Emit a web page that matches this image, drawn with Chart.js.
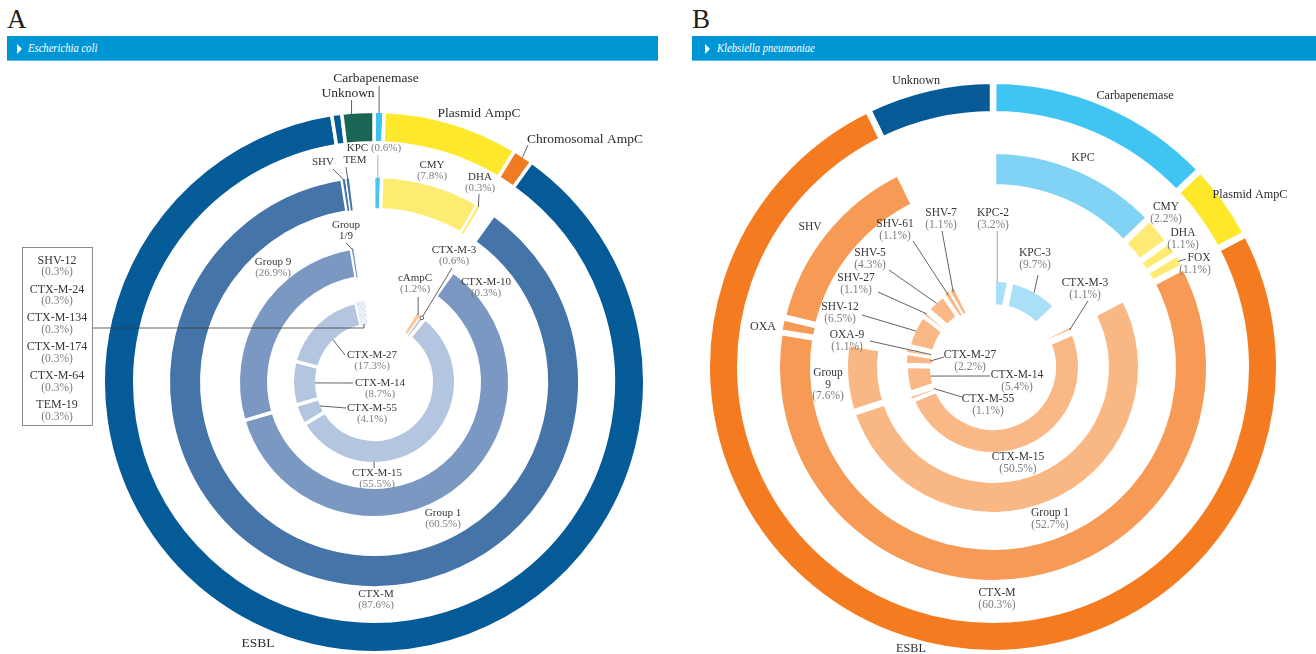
<!DOCTYPE html>
<html>
<head>
<meta charset="utf-8">
<title>Beta-lactamase genes: E. coli and K. pneumoniae</title>
<script src="https://cdn.jsdelivr.net/npm/chart.js@4.4.1/dist/chart.umd.min.js"></script>
<style>
  html, body { margin: 0; padding: 0; background: #fff; }
  body { position: relative; width: 1316px; height: 654px; overflow: hidden; font-family: 'Liberation Serif', 'DejaVu Serif', serif; }
  .letter { position: absolute; top: 4px; font-size: 27px; line-height: 30px; color: #231f20; }
  .bar { position: absolute; top: 36px; height: 24px; background: #0096d6; border-bottom: 1px solid #5bbfe9; }
  .bar .tri { position: absolute; top: 8px; width: 0; height: 0; border-left: 5px solid #fff; border-top: 5px solid transparent; border-bottom: 5px solid transparent; }
  .bar .name { position: absolute; top: 3px; color: #fff; font-style: italic; font-size: 12.5px; line-height: 18px; white-space: nowrap; transform: scaleX(0.85); transform-origin: left center; }
  canvas { position: absolute; top: 62px; }
</style>
</head>
<body>
  <div class="letter" style="left:7px">A</div>
  <div class="bar" style="left:7px; width:651px"><span class="tri" style="left:10px"></span><span class="name" style="left:21px">Escherichia coli</span></div>
  <div class="letter" style="left:692px">B</div>
  <div class="bar" style="left:692px; width:624px"><span class="tri" style="left:13px"></span><span class="name" style="left:25px">Klebsiella pneumoniae</span></div>

  <canvas id="chartA" width="680" height="592" style="left:0"></canvas>
  <canvas id="chartB" width="636" height="592" style="left:680px"></canvas>

<script>
// ---- E. coli (A), rings from outside in: class, family, CTX-M group, gene (% of isolates) ----
// empty label = no entry on that ring (left open)
const ecoliClassLabels = ['Carbapenemase', 'Plasmid AmpC', 'Chromosomal AmpC', 'ESBL', 'ESBL', 'Unknown'];
const ecoliClassValues = [0.6, 8.1, 1.2, 87.6, 0.6, 1.9];
const ecoliFamilyLabels = ['KPC', 'CMY', 'DHA', '', 'CTX-M', 'SHV', 'TEM', ''];
const ecoliFamilyValues = [0.6, 7.8, 0.3, 1.2, 87.6, 0.3, 0.3, 1.9];
const ecoliGroupLabels = ['', 'Group 1', 'Group 9', 'Group 1/9', ''];
const ecoliGroupValues = [9.9, 60.5, 26.9, 0.3, 2.4];
const ecoliGeneLabels = ['', 'cAmpC', 'CTX-M-3', 'CTX-M-10', 'CTX-M-15', 'CTX-M-55', 'CTX-M-14', 'CTX-M-27',
  'CTX-M-24', 'CTX-M-134', 'CTX-M-174', 'CTX-M-64', 'SHV-12', 'TEM-19', ''];
const ecoliGeneValues = [8.7, 1.2, 0.6, 0.3, 55.5, 4.1, 8.7, 17.3, 0.3, 0.3, 0.3, 0.3, 0.3, 0.3, 1.8];

// ---- K. pneumoniae (B) ----
const klebClassLabels = ['Carbapenemase', 'Plasmid AmpC', 'ESBL', 'Unknown'];
const klebClassValues = [12.9, 4.4, 75.5, 7.2];
const klebFamilyLabels = ['KPC', 'CMY', 'DHA', 'FOX', 'CTX-M', 'OXA', 'SHV', ''];
const klebFamilyValues = [12.9, 2.2, 1.1, 1.1, 60.3, 1.1, 14.1, 7.2];
const klebGroupLabels = ['', 'Group 1', 'Group 9', ''];
const klebGroupValues = [17.3, 52.7, 7.6, 22.4];
const klebGeneLabels = ['KPC-2', 'KPC-3', '', 'CTX-M-3', 'CTX-M-15', 'CTX-M-55', 'CTX-M-14', 'CTX-M-27',
  'OXA-9', 'SHV-12', 'SHV-27', 'SHV-5', 'SHV-61', 'SHV-7', ''];
const klebGeneValues = [3.2, 9.7, 4.4, 1.1, 50.5, 1.1, 5.4, 2.2, 1.1, 6.5, 1.1, 4.3, 1.1, 1.1, 7.2];

// hatched fill for the 0.3% singletons
function hatch(base) {
  const c = document.createElement('canvas');
  c.width = 4; c.height = 4;
  const g = c.getContext('2d');
  g.fillStyle = base;
  g.fillRect(0, 0, 4, 4);
  g.strokeStyle = 'rgba(255,255,255,0.85)';
  g.lineWidth = 1;
  g.beginPath(); g.moveTo(0, 4); g.lineTo(4, 0); g.stroke();
  return g.createPattern(c, 'repeat');
}

const bl = { esbl: '#055b97', fam: '#4574a9', grp: '#7b98c3', gene: '#b4c5df' };
const or = { esbl: '#f47b20', fam: '#f79a55', grp: '#f9b783', gene: '#f9b886' };
const H = hatch('#c2d0e6');

const ecoliClassColors = ['#3ec3f0', '#fee82b', '#f07b20', bl.esbl, bl.esbl, '#1a6654'];
const ecoliFamilyColors = ['#4dc4f0', '#fdeb72', '#fdeb72', null, bl.fam, bl.fam, bl.fam, null];
const ecoliGroupColors = [null, bl.grp, bl.grp, bl.grp, null];
const ecoliGeneColors = [null, '#fcc89c', bl.gene, bl.gene, bl.gene, bl.gene, bl.gene, bl.gene, H, H, H, H, H, H, null];

const klebClassColors = ['#40c5f2', '#fee829', or.esbl, '#065a96'];
const klebFamilyColors = ['#80d3f5', '#ffeb74', '#ffeb74', '#ffeb74', or.fam, or.fam, or.fam, null];
const klebGroupColors = [null, or.grp, or.grp, null];
const klebGeneColors = ['#a9e0f8', '#a9e0f8', null, or.gene, or.gene, or.gene, or.gene, or.gene, or.gene,
  or.gene, or.gene, or.gene, or.gene, or.gene, null];

// label placement (page pixels). ring 0 = outermost
const ecoliNotes = [
  { ring: 0, idx: 0, at: [376, 78], big: true, lead: { edge: 'outer', from: [null, 86] } },
  { ring: 0, idx: 5, at: [348, 93], big: true, lead: { edge: 'outer', from: [null, 100], t: 0.3 } },
  { ring: 0, idx: 1, at: [479, 113], big: true },
  { ring: 0, idx: 2, at: [585, 139], big: true, lead: { edge: 'outer', from: [528, 145] } },
  { ring: 0, idx: 3, at: [258, 643], big: true },
  { ring: 1, idx: 0, at: [374, 148], pct: true, inline: true, lead: { edge: 'outer', from: [null, 155], color: '#9a9a9a' } },
  { ring: 1, idx: 1, at: [432, 165], pct: true },
  { ring: 1, idx: 2, at: [480, 177], pct: true, lead: { edge: 'outer', from: [479, 194] } },
  { ring: 1, idx: 4, at: [376, 594], pct: true },
  { ring: 1, idx: 5, at: [323, 162], lead: { edge: 'outer', from: [333, 169] } },
  { ring: 1, idx: 6, at: [355, 160], lead: { edge: 'outer', from: [346, 167] } },
  { ring: 2, idx: 1, at: [443, 513], pct: true },
  { ring: 2, idx: 2, at: [273, 262], pct: true },
  { ring: 2, idx: 3, at: [346, 225], split: true, lead: { edge: 'outer', from: [346, 243] } },
  { ring: 3, idx: 1, at: [415, 278], pct: true, lead: { edge: 'outer', from: [null, 297] } },
  { ring: 3, idx: 2, at: [454, 250], pct: true, lead: { edge: 'outer', from: [452, 268], dot: true } },
  { ring: 3, idx: 3, at: [486, 282], pct: true },
  { ring: 3, idx: 4, at: [377, 473], pct: true, lead: { edge: 'outer', from: [null, 468], t: 0.706 } },
  { ring: 3, idx: 5, at: [372, 408], pct: true, lead: { edge: 'inner', from: [346, 408] } },
  { ring: 3, idx: 6, at: [380, 383], pct: true, lead: { edge: 'inner', from: [353, 383] } },
  { ring: 3, idx: 7, at: [372, 355], pct: true, lead: { edge: 'inner', from: [345, 355] } }
];

const klebNotes = [
  { ring: 0, idx: 3, at: [916, 81], big: true },
  { ring: 0, idx: 0, at: [1135, 96], big: true },
  { ring: 0, idx: 1, at: [1250, 195], big: true },
  { ring: 0, idx: 2, at: [911, 649], big: true },
  { ring: 1, idx: 0, at: [1083, 158], mid: true },
  { ring: 1, idx: 1, at: [1166, 207], pct: true },
  { ring: 1, idx: 2, at: [1183, 233], pct: true },
  { ring: 1, idx: 3, at: [1199, 258], pct: true, pctX: 1195, lead: { edge: 'outer', from: [1186, 259] } },
  { ring: 1, idx: 4, at: [997, 593], pct: true },
  { ring: 1, idx: 5, at: [763, 327], mid: true },
  { ring: 1, idx: 6, at: [810, 227] },
  { ring: 2, idx: 1, at: [1050, 513], pct: true },
  { ring: 2, idx: 2, at: [828, 373], pct: true, split: true },
  { ring: 3, idx: 0, at: [993, 213], pct: true, lead: { edge: 'outer', from: [null, 231], t: 0.25, color: '#8a8a8a' } },
  { ring: 3, idx: 1, at: [1035, 253], pct: true, lead: { edge: 'outer', from: [1038, 275] } },
  { ring: 3, idx: 3, at: [1085, 283], pct: true, lead: { edge: 'outer', from: [1088, 301] } },
  { ring: 3, idx: 4, at: [1018, 457], pct: true },
  { ring: 3, idx: 5, at: [988, 399], pct: true, lead: { edge: 'inner', from: [962, 397] } },
  { ring: 3, idx: 6, at: [1017, 375], pct: true, lead: { edge: 'inner', from: [990, 376] } },
  { ring: 3, idx: 7, at: [970, 355], pct: true, lead: { edge: 'inner', from: [944, 357] } },
  { ring: 3, idx: 8, at: [847, 335], pct: true, lead: { edge: 'inner', from: [870, 341] } },
  { ring: 3, idx: 9, at: [840, 307], pct: true, lead: { edge: 'outer', from: [862, 315] } },
  { ring: 3, idx: 10, at: [856, 278], pct: true, lead: { edge: 'outer', from: [878, 292] } },
  { ring: 3, idx: 11, at: [870, 253], pct: true, lead: { edge: 'outer', from: [889, 270] } },
  { ring: 3, idx: 12, at: [895, 224], pct: true, lead: { edge: 'outer', from: [913, 241] } },
  { ring: 3, idx: 13, at: [941, 213], pct: true, lead: { edge: 'outer', from: [942, 231] } }
];

const panelA = {
  id: 'A', canvas: 'chartA', left: 0, top: 62, center: [374, 382],
  rings: [[241, 269], [174, 204], [107, 134], [59, 80]], gap: 3.5,
  font: 11, midFont: 12, bigFont: 13.5, lh: 11,
  labels: [ecoliClassLabels, ecoliFamilyLabels, ecoliGroupLabels, ecoliGeneLabels],
  values: [ecoliClassValues, ecoliFamilyValues, ecoliGroupValues, ecoliGeneValues],
  colors: [ecoliClassColors, ecoliFamilyColors, ecoliGroupColors, ecoliGeneColors],
  notes: ecoliNotes,
  // boxed list of single-isolate genes
  box: { rect: [22, 247, 70, 178], cx: 57, firstY: 260.5, step: 28.9, items: [12, 8, 9, 10, 11, 13],
         lead: { idx: 10, t: 1, y: 328 } }
};

const panelB = {
  id: 'B', canvas: 'chartB', left: 680, top: 62, center: [993, 367],
  rings: [[256, 283], [183, 213], [116, 145], [63, 85]], gap: 6.5,
  font: 11.5, midFont: 12, bigFont: 12.2, lh: 11.5,
  labels: [klebClassLabels, klebFamilyLabels, klebGroupLabels, klebGeneLabels],
  values: [klebClassValues, klebFamilyValues, klebGroupValues, klebGeneValues],
  colors: [klebClassColors, klebFamilyColors, klebGroupColors, klebGeneColors],
  notes: klebNotes
};

const FONT = '"Liberation Serif", "DejaVu Serif", serif';
const NAME = '#363636', PCT = '#7d7d7d';

function makeNotes(panel) {
  return {
    id: 'notes' + panel.id,
    afterDatasetsDraw(chart) {
      const ctx = chart.ctx;
      const px = x => x - panel.left, py = y => y - panel.top;
      const anchor = (ring, idx, edge, t) => {
        const arc = chart.getDatasetMeta(ring * 2).data[idx];
        const a = arc.startAngle + (arc.endAngle - arc.startAngle) * (t == null ? 0.5 : t);
        const r = panel.rings[ring][edge === 'inner' ? 0 : 1];
        return [arc.x + r * Math.cos(a), arc.y + r * Math.sin(a)];
      };
      ctx.save();
      ctx.textAlign = 'center';
      ctx.textBaseline = 'middle';

      panel.notes.forEach(n => {
        const name = panel.labels[n.ring][n.idx];
        const pct = '(' + panel.values[n.ring][n.idx].toFixed(1) + '%)';
        const size = n.big ? panel.bigFont : n.mid ? panel.midFont : panel.font;
        const x = px(n.at[0]), y = py(n.at[1]);

        if (n.lead) {
          const end = anchor(n.ring, n.idx, n.lead.edge, n.lead.t);
          const sx = n.lead.from[0] == null ? end[0] : px(n.lead.from[0]);
          ctx.strokeStyle = n.lead.color || '#3a3a3a';
          ctx.lineWidth = 0.8;
          ctx.beginPath();
          ctx.moveTo(sx, py(n.lead.from[1]));
          ctx.lineTo(end[0], end[1]);
          ctx.stroke();
          if (n.lead.dot) {
            ctx.fillStyle = '#fff';
            ctx.beginPath();
            ctx.arc(end[0], end[1], 1.8, 0, Math.PI * 2);
            ctx.fill();
            ctx.stroke();
          }
        }

        ctx.font = size + 'px ' + FONT;
        if (n.inline) {
          const w1 = ctx.measureText(name + ' ').width, w2 = ctx.measureText(pct).width;
          const x0 = x - (w1 + w2) / 2;
          ctx.textAlign = 'left';
          ctx.fillStyle = NAME;
          ctx.fillText(name, x0, y);
          ctx.fillStyle = PCT;
          ctx.fillText(pct, x0 + w1, y);
          ctx.textAlign = 'center';
          return;
        }
        const lines = n.split ? name.split(' ') : [name];
        ctx.fillStyle = n.big ? '#2b2b2b' : NAME;
        lines.forEach((s, i) => ctx.fillText(s, x, y + i * panel.lh));
        if (n.pct) {
          ctx.fillStyle = PCT;
          ctx.fillText(pct, n.pctX != null ? px(n.pctX) : x, y + lines.length * panel.lh);
        }
      });

      const b = panel.box;
      if (b) {
        const end = anchor(3, b.lead.idx, 'inner', b.lead.t);
        const bx = px(b.rect[0]), by = py(b.rect[1]);
        ctx.strokeStyle = '#3a3a3a';
        ctx.lineWidth = 0.8;
        ctx.beginPath();
        ctx.moveTo(bx + b.rect[2], py(b.lead.y));
        ctx.lineTo(end[0], py(b.lead.y));
        ctx.lineTo(end[0], end[1]);
        ctx.stroke();
        ctx.strokeStyle = '#8a8a8a';
        ctx.lineWidth = 1;
        ctx.strokeRect(bx + 0.5, by + 0.5, b.rect[2], b.rect[3]);
        b.items.forEach((idx, k) => {
          const y = py(b.firstY) + k * b.step;
          ctx.font = '12px ' + FONT;
          ctx.fillStyle = NAME;
          ctx.fillText(panel.labels[3][idx], px(b.cx), y);
          ctx.font = '11.5px ' + FONT;
          ctx.fillStyle = PCT;
          ctx.fillText('(' + panel.values[3][idx].toFixed(1) + '%)', px(b.cx), y + 11.5);
        });
      }
      ctx.restore();
    }
  };
}

function makeChart(panel) {
  const canvas = document.getElementById(panel.canvas);
  const cx = panel.center[0] - panel.left, cy = panel.center[1] - panel.top;
  const padX = 2 * cx - canvas.width, padY = 2 * cy - canvas.height;
  const G = panel.gap, rings = panel.rings;
  const datasets = [];

  rings.forEach(([ri, ro], k) => {
    const values = panel.values[k], colors = panel.colors[k];
    const total = values.reduce((a, b) => a + b, 0);
    const rMid = (ri + ro) / 2;
    datasets.push({
      label: 'ring' + k,
      data: values,
      backgroundColor: colors.map(c => c || 'rgba(0,0,0,0)'),
      borderColor: '#ffffff',
      // white gap between pieces, thinner on the tiny slivers
      borderWidth: values.map((v, i) => colors[i] ? Math.min(G, 0.4 * v / total * 2 * Math.PI * rMid) : 0),
      weight: ro - ri + G,
      clip: false
    });
    if (k < rings.length - 1) {
      datasets.push({ label: 'space' + k, data: [1], backgroundColor: 'rgba(0,0,0,0)', borderWidth: 0,
        weight: ri - rings[k + 1][1] - G, clip: false });
    }
  });

  const outer = rings[0][1] + G / 2, inner = rings[rings.length - 1][0] - G / 2;
  return new Chart(canvas, {
    type: 'doughnut',
    data: { labels: panel.labels[3], datasets },
    options: {
      responsive: false,
      animation: false,
      events: [],
      radius: outer,
      cutout: (inner / outer * 100) + '%',
      layout: { padding: { left: Math.max(padX, 0), right: Math.max(-padX, 0), top: Math.max(padY, 0), bottom: Math.max(-padY, 0) } },
      plugins: { legend: { display: false }, tooltip: { enabled: false } }
    },
    plugins: [makeNotes(panel)]
  });
}

makeChart(panelA);
makeChart(panelB);
</script>
</body>
</html>
